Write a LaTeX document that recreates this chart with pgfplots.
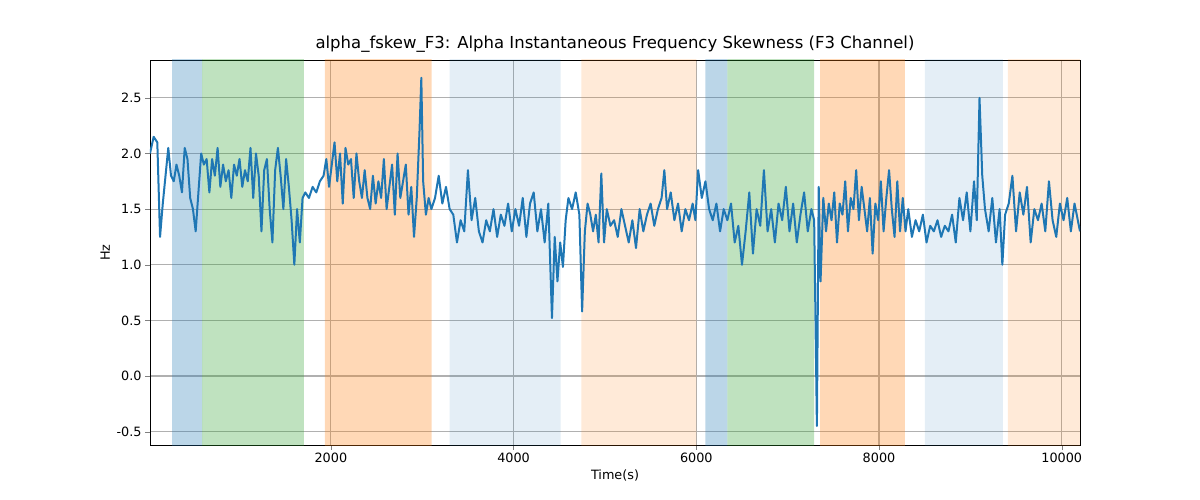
\documentclass[border=0pt]{standalone}
\usepackage{pgfplots}
\pgfplotsset{compat=1.18}
\usepackage{fontspec}
\setmainfont{DejaVu Sans}
\definecolor{tb}{RGB}{31,119,180}
\definecolor{tg}{RGB}{44,160,44}
\definecolor{to}{RGB}{255,127,14}
\definecolor{gr}{RGB}{176,176,176}
\begin{document}
\begin{tikzpicture}
\path (-150bp,-55bp) rectangle (1050bp,445bp);
\begin{axis}[width=930bp,height=385bp,scale only axis,
 at={(0,0)},anchor=south west,
 xmin=20,xmax=10200,ymin=-0.62,ymax=2.84,
 grid=major,grid style={gr,line width=1.1bp},
 title={alpha\_fskew\_F3: Alpha Instantaneous Frequency Skewness (F3 Channel)},
 xlabel={Time(s)},ylabel={Hz},
 xtick={2000,4000,6000,8000,10000},
 ytick={-0.5,0,0.5,1,1.5,2,2.5},
 xtick pos=bottom, ytick pos=left,
 scaled x ticks=false,
 yticklabel style={/pgf/number format/.cd,fixed,fixed zerofill,precision=1},
 xticklabel style={/pgf/number format/1000 sep={}},
 /pgf/number format/assume math mode=true,
 tick label style={font=\fontsize{12.8bp}{15bp}\selectfont},
 label style={font=\fontsize{12.8bp}{15bp}\selectfont},
 title style={font=\fontsize{16.5bp}{19bp}\selectfont,yshift=-2bp},
 major tick length=4.9bp,
 tick align=outside,axis line style={line width=0.9bp}]
\def\band#1#2#3#4{\addplot[draw=none,fill=#3,fill opacity=#4,forget plot] coordinates {(#1,-1) (#2,-1) (#2,3) (#1,3)} \closedcycle;}
\band{262}{590}{tb}{0.3}
\band{590}{1705}{tg}{0.3}
\band{1934}{3104}{to}{0.3}
\band{3301}{4514}{tb}{0.12}
\band{4743}{6000}{to}{0.16}
\band{6098}{6339}{tb}{0.3}
\band{6339}{7290}{tg}{0.3}
\band{7355}{8284}{to}{0.3}
\band{8503}{9355}{tb}{0.12}
\band{9410}{10300}{to}{0.16}
\addplot[tb,line width=2bp,line join=round] coordinates {
(20,2.0)(60,2.15)(100,2.1)(130,1.25)(160,1.55)(190,1.8)(220,2.05)(250,1.8)(280,1.75)(310,1.9)(340,1.8)(370,1.65)(400,2.05)(430,1.95)(460,1.6)(490,1.5)(520,1.3)(550,1.65)(580,2.0)(610,1.9)(640,1.95)(670,1.65)(700,1.95)(730,1.8)(760,2.05)(790,1.7)(820,1.9)(850,1.75)(880,1.85)(910,1.6)(940,1.9)(970,1.8)(1000,1.95)(1030,1.7)(1060,1.85)(1090,1.75)(1120,2.05)(1150,1.6)(1180,2.0)(1210,1.8)(1240,1.3)(1270,1.85)(1300,1.95)(1330,1.5)(1360,1.2)(1390,1.85)(1420,2.05)(1450,1.8)(1480,1.5)(1510,1.95)(1540,1.7)(1570,1.4)(1600,1.0)(1630,1.5)(1660,1.2)(1690,1.6)(1720,1.65)(1760,1.6)(1800,1.7)(1840,1.65)(1880,1.75)(1920,1.8)(1950,1.95)(1980,1.7)(2010,1.9)(2040,2.1)(2070,1.75)(2100,2.0)(2130,1.55)(2160,2.05)(2190,1.9)(2220,1.95)(2250,1.6)(2280,2.0)(2310,1.75)(2340,1.6)(2370,1.85)(2400,1.6)(2430,1.5)(2460,1.8)(2490,1.55)(2520,1.75)(2550,1.6)(2580,1.95)(2610,1.5)(2640,1.7)(2670,1.9)(2700,1.45)(2730,2.0)(2760,1.6)(2790,1.75)(2820,1.9)(2850,1.45)(2880,1.7)(2910,1.25)(2940,1.6)(2970,2.2)(2990,2.68)(3010,1.75)(3040,1.45)(3070,1.6)(3100,1.5)(3140,1.6)(3180,1.8)(3220,1.55)(3260,1.7)(3300,1.5)(3340,1.45)(3380,1.2)(3420,1.4)(3460,1.3)(3500,1.85)(3540,1.4)(3580,1.6)(3620,1.3)(3660,1.2)(3700,1.4)(3740,1.3)(3780,1.5)(3820,1.25)(3860,1.45)(3900,1.35)(3940,1.55)(3980,1.3)(4020,1.5)(4060,1.35)(4100,1.6)(4140,1.25)(4180,1.55)(4220,1.65)(4260,1.3)(4300,1.5)(4340,1.2)(4380,1.55)(4420,0.52)(4450,1.25)(4480,0.85)(4510,1.2)(4540,0.98)(4570,1.4)(4600,1.6)(4640,1.5)(4680,1.65)(4720,1.45)(4750,0.58)(4780,1.3)(4810,1.55)(4840,1.45)(4870,1.3)(4900,1.45)(4930,1.2)(4960,1.82)(4990,1.2)(5020,1.5)(5060,1.35)(5100,1.4)(5140,1.25)(5180,1.5)(5220,1.35)(5260,1.2)(5300,1.4)(5340,1.15)(5380,1.5)(5420,1.3)(5460,1.45)(5500,1.55)(5540,1.35)(5580,1.5)(5620,1.6)(5650,1.85)(5680,1.5)(5720,1.65)(5760,1.4)(5800,1.55)(5840,1.3)(5880,1.5)(5920,1.4)(5960,1.55)(5990,1.4)(6020,1.85)(6060,1.6)(6100,1.75)(6140,1.5)(6180,1.4)(6220,1.55)(6260,1.3)(6300,1.5)(6340,1.4)(6380,1.55)(6420,1.2)(6460,1.35)(6500,1.0)(6540,1.3)(6580,1.65)(6620,1.1)(6660,1.5)(6700,1.35)(6740,1.85)(6780,1.3)(6820,1.5)(6860,1.2)(6900,1.55)(6940,1.4)(6980,1.7)(7020,1.3)(7060,1.55)(7100,1.2)(7140,1.45)(7180,1.65)(7220,1.3)(7260,1.5)(7290,1.4)(7320,-0.45)(7340,1.7)(7360,0.85)(7390,1.6)(7420,1.3)(7450,1.55)(7480,1.4)(7510,1.65)(7540,1.2)(7570,1.55)(7600,1.45)(7630,1.75)(7660,1.3)(7690,1.6)(7720,1.5)(7750,1.85)(7780,1.4)(7810,1.7)(7840,1.5)(7870,1.3)(7900,1.6)(7930,1.1)(7960,1.55)(7990,1.4)(8020,1.75)(8050,1.3)(8080,1.6)(8110,1.85)(8140,1.5)(8170,1.25)(8200,1.75)(8230,1.3)(8260,1.6)(8290,1.3)(8320,1.5)(8360,1.25)(8400,1.4)(8440,1.3)(8480,1.45)(8520,1.2)(8560,1.35)(8600,1.3)(8640,1.4)(8680,1.25)(8720,1.35)(8760,1.3)(8800,1.45)(8840,1.2)(8880,1.6)(8920,1.4)(8960,1.65)(9000,1.3)(9040,1.75)(9070,1.4)(9100,2.5)(9130,1.8)(9160,1.5)(9200,1.3)(9240,1.6)(9280,1.2)(9320,1.5)(9350,1.0)(9380,1.45)(9420,1.55)(9460,1.8)(9500,1.3)(9540,1.65)(9580,1.45)(9620,1.7)(9660,1.2)(9700,1.5)(9740,1.4)(9780,1.55)(9820,1.3)(9860,1.75)(9900,1.4)(9940,1.25)(9980,1.55)(10020,1.4)(10060,1.6)(10100,1.3)(10140,1.55)(10200,1.3)
};
\end{axis}
\end{tikzpicture}
\end{document}
